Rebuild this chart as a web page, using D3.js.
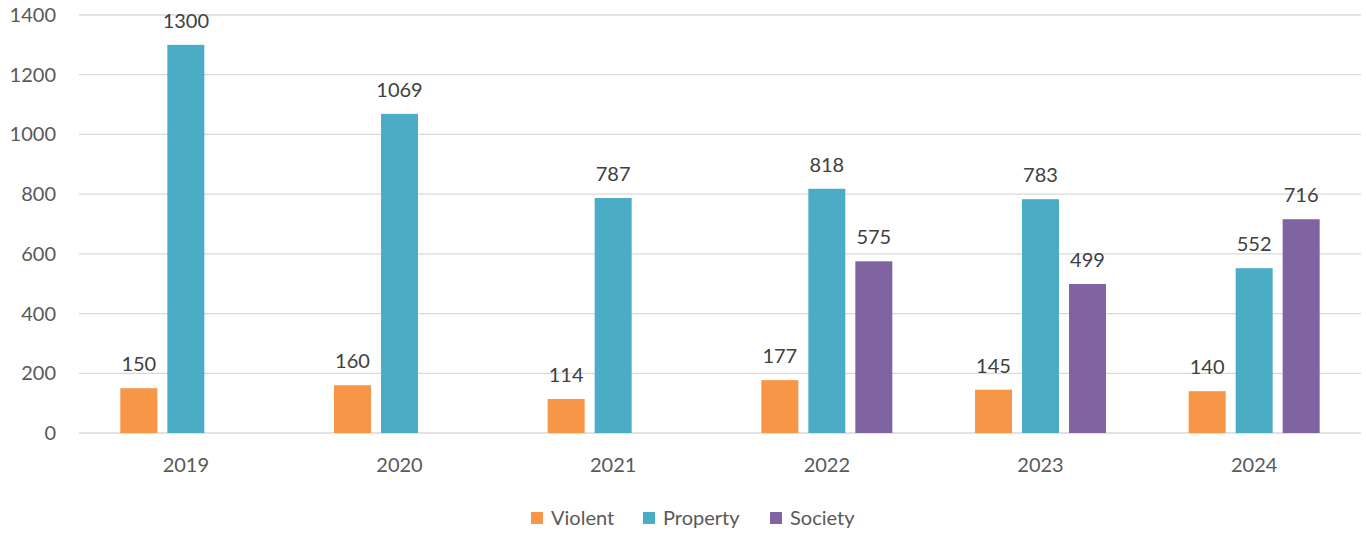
<!DOCTYPE html>
<html>
<head>
<meta charset="utf-8">
<script src="https://cdn.jsdelivr.net/npm/d3@7"></script>
<style>
  body { margin: 0; background: #fff; }
  text { font-family: Lato, "Open Sans", sans-serif; }
</style>
</head>
<body>
<svg width="1366" height="533"></svg>
<script>
// data
var years = ["2019", "2020", "2021", "2022", "2023", "2024"];
var violent = [150, 160, 114, 177, 145, 140];
var property = [1300, 1069, 787, 818, 783, 552];
var society = [null, null, null, 575, 499, 716];
var seriesNames = ["Violent", "Property", "Society"];
var yTicks = [0, 200, 400, 600, 800, 1000, 1200, 1400];

var colors = ["#F79646", "#4BACC6", "#8064A2"];
var series = [violent, property, society];

var svg = d3.select("svg");

// plot area (note: "top" is reserved on window, so use plotTop)
var plotLeft = 79, plotRight = 1361, plotTop = 15, plotBottom = 433;

var x = d3.scaleBand().domain(years).range([plotLeft, plotRight]);
var y = d3.scaleLinear().domain([0, 1400]).range([plotBottom, plotTop]);

var barW = 37, gap = 10;
var groupW = 3 * barW + 2 * gap;

// gridlines
svg.append("g")
   .selectAll("line")
   .data(yTicks)
   .join("line")
   .attr("x1", plotLeft)
   .attr("x2", plotRight)
   .attr("y1", d => y(d))
   .attr("y2", d => y(d))
   .style("stroke", "#d9d9d9")
   .style("stroke-width", "1.3px");

// y tick labels
svg.append("g")
   .selectAll("text")
   .data(yTicks)
   .join("text")
   .attr("x", 56)
   .attr("y", d => y(d) + 7)
   .attr("text-anchor", "end")
   .style("font-size", "20px")
   .style("fill", "#595959")
   .text(d => d);

// x labels
svg.append("g")
   .selectAll("text")
   .data(years)
   .join("text")
   .attr("x", d => x(d) + x.bandwidth() / 2)
   .attr("y", 472)
   .attr("text-anchor", "middle")
   .style("font-size", "20px")
   .style("fill", "#595959")
   .text(d => d);

// bars + value labels
series.forEach(function (vals, i) {
  var pts = years.map((yr, j) => ({ yr: yr, v: vals[j] })).filter(d => d.v != null);
  var bx = d => x(d.yr) + x.bandwidth() / 2 - groupW / 2 + i * (barW + gap);

  svg.append("g")
     .selectAll("rect")
     .data(pts)
     .join("rect")
     .attr("x", bx)
     .attr("y", d => y(d.v))
     .attr("width", barW)
     .attr("height", d => plotBottom - y(d.v))
     .style("fill", colors[i]);

  svg.append("g")
     .selectAll("text")
     .data(pts)
     .join("text")
     .attr("x", d => bx(d) + barW / 2)
     .attr("y", d => y(d.v) - 17)
     .attr("text-anchor", "middle")
     .style("font-size", "20px")
     .style("fill", "#404040")
     .text(d => d.v);
});

// legend
var legendX = [531, 643, 770];
var legend = svg.append("g")
   .selectAll("g")
   .data(seriesNames)
   .join("g")
   .attr("transform", (d, i) => "translate(" + legendX[i] + ",512)");

legend.append("rect")
   .attr("width", 12)
   .attr("height", 12)
   .style("fill", (d, i) => colors[i]);

legend.append("text")
   .attr("x", 20)
   .attr("y", 13)
   .style("font-size", "20px")
   .style("fill", "#595959")
   .text(d => d);
</script>
</body>
</html>
